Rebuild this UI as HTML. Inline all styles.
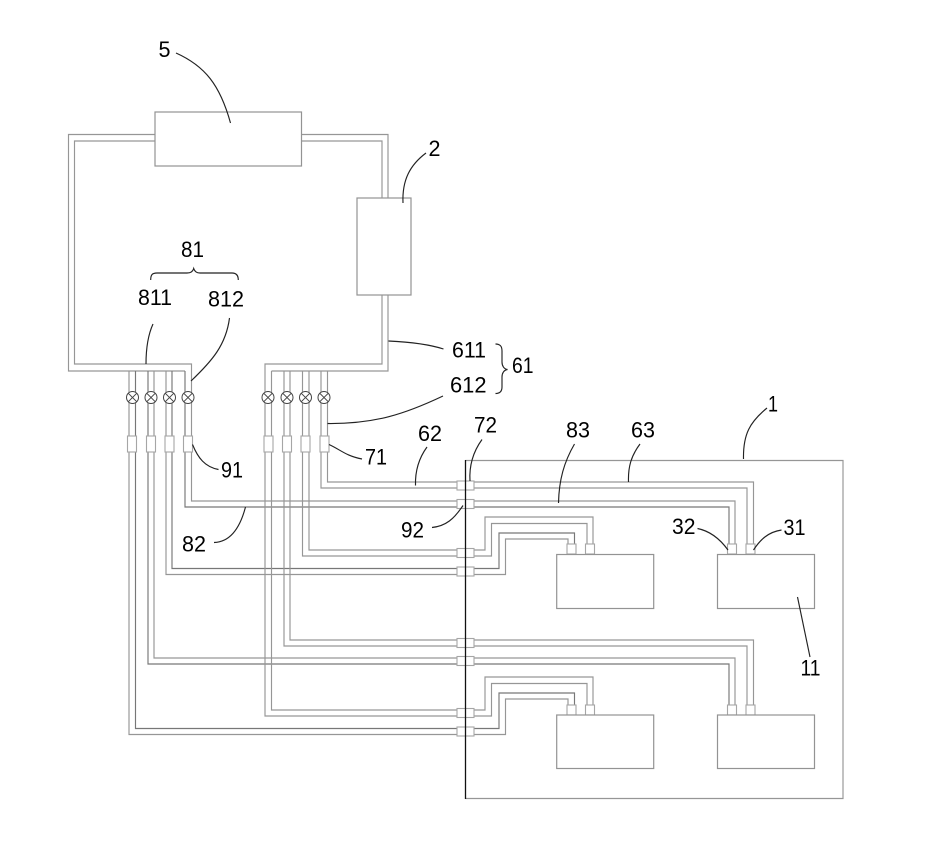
<!DOCTYPE html>
<html>
<head>
<meta charset="utf-8">
<style>
html,body{margin:0;padding:0;background:#fff;}
svg{display:block;}
text{font-family:"Liberation Sans",sans-serif;font-size:22px;fill:#000;}
.p{fill:none;stroke:#969696;stroke-width:1.15;}
.d{fill:none;stroke:#777;stroke-width:1.15;}
.b{fill:#fff;stroke:#939393;stroke-width:1.2;}
.c{fill:#fff;stroke:#a6a6a6;stroke-width:1.1;}
.l{fill:none;stroke:#222;stroke-width:1.15;}
.v{fill:#fff;stroke:#444;stroke-width:1;}
</style>
</head>
<body>
<svg width="930" height="850" viewBox="0 0 930 850" xmlns="http://www.w3.org/2000/svg">
<rect width="930" height="850" fill="#fff"/>

<!-- enclosure 1 -->
<path class="p" d="M465.5,460.5 H843 V798.5 H465.5"/>

<!-- main loop -->
<path class="p" d="M155,134.5 H68.5 V371 H185"/>
<path class="p" d="M155,141 H74.5 V364 H191.5 V371"/>
<path class="p" d="M301,134.5 H388 V198 M388,295 V371 H271.5"/>
<path class="p" d="M301,141 H382 V198 M382,295 V364 H265 V371"/>

<!-- left group -->
<path class="p" d="M129,371 V734.5 H505.5 V699 H568 V705"/>
<path class="d" d="M135.5,371 V728.5 H499 V693 H574.5 V705"/>
<path class="d" d="M148,371 V664 H729 V705"/>
<path class="p" d="M154,371 V658 H735 V705"/>
<path class="p" d="M166,371 V574.5 H505.5 V539 H568 V544"/>
<path class="d" d="M172,371 V568.5 H499 V533 H574.5 V544"/>
<path class="d" d="M185,371 V507 H729 V544"/>
<path class="p" d="M191.5,371 V501 H735 V544"/>

<!-- right group -->
<path class="p" d="M265,371 V716 H491.5 V683.5 H587 V705"/>
<path class="p" d="M271.5,371 V710 H485 V677 H593 V705"/>
<path class="p" d="M284,371 V646 H747 V705"/>
<path class="p" d="M290,371 V640 H753.5 V705"/>
<path class="p" d="M302.5,371 V556 H491.5 V523.5 H587 V544"/>
<path class="p" d="M309,371 V550 H485 V517 H593 V544"/>
<path class="p" d="M321,371 V488 H747 V544"/>
<path class="p" d="M327.5,371 V482 H753.5 V544"/>

<!-- connectors on branches -->
<rect class="c" x="127.5" y="436" width="9" height="16"/>
<rect class="c" x="146.5" y="436" width="9" height="16"/>
<rect class="c" x="165" y="436" width="9" height="16"/>
<rect class="c" x="183.5" y="436" width="9" height="16"/>
<rect class="c" x="264" y="436" width="9" height="16"/>
<rect class="c" x="282.5" y="436" width="9" height="16"/>
<rect class="c" x="301" y="436" width="9" height="16"/>
<rect class="c" x="320" y="436" width="9" height="16"/>

<!-- connectors at enclosure wall -->
<rect class="c" x="457" y="481" width="17" height="9"/>
<rect class="c" x="457" y="499.5" width="17" height="9"/>
<rect class="c" x="457" y="548.5" width="17" height="9"/>
<rect class="c" x="457" y="567" width="17" height="9"/>
<rect class="c" x="457" y="638.5" width="17" height="9"/>
<rect class="c" x="457" y="656.5" width="17" height="9"/>
<rect class="c" x="457" y="708.5" width="17" height="9"/>
<rect class="c" x="457" y="727" width="17" height="9"/>

<!-- valves -->
<g>
<circle class="v" cx="132.5" cy="397.5" r="6"/><path class="v" d="M128.3,393.3 L136.7,401.7 M136.7,393.3 L128.3,401.7"/>
<circle class="v" cx="151" cy="397.5" r="6"/><path class="v" d="M146.8,393.3 L155.2,401.7 M155.2,393.3 L146.8,401.7"/>
<circle class="v" cx="169.5" cy="397.5" r="6"/><path class="v" d="M165.3,393.3 L173.7,401.7 M173.7,393.3 L165.3,401.7"/>
<circle class="v" cx="188" cy="397.5" r="6"/><path class="v" d="M183.8,393.3 L192.2,401.7 M192.2,393.3 L183.8,401.7"/>
<circle class="v" cx="268" cy="397.5" r="6"/><path class="v" d="M263.8,393.3 L272.2,401.7 M272.2,393.3 L263.8,401.7"/>
<circle class="v" cx="287" cy="397.5" r="6"/><path class="v" d="M282.8,393.3 L291.2,401.7 M291.2,393.3 L282.8,401.7"/>
<circle class="v" cx="305.5" cy="397.5" r="6"/><path class="v" d="M301.3,393.3 L309.7,401.7 M309.7,393.3 L301.3,401.7"/>
<circle class="v" cx="324" cy="397.5" r="6"/><path class="v" d="M319.8,393.3 L328.2,401.7 M328.2,393.3 L319.8,401.7"/>
</g>

<!-- top boxes -->
<rect class="b" x="155" y="112" width="146.5" height="54"/>
<rect class="b" x="357" y="198" width="54" height="97"/>

<!-- battery ports -->
<rect class="c" x="567" y="544" width="9" height="10"/>
<rect class="c" x="585.5" y="544" width="9" height="10"/>
<rect class="c" x="727.5" y="544" width="9" height="10"/>
<rect class="c" x="746" y="544" width="9" height="10"/>
<rect class="c" x="567" y="705" width="9" height="10"/>
<rect class="c" x="585.5" y="705" width="9" height="10"/>
<rect class="c" x="727.5" y="705" width="9" height="10"/>
<rect class="c" x="746" y="705" width="9" height="10"/>

<!-- battery boxes -->
<rect class="b" x="556.7" y="554.5" width="97" height="54"/>
<rect class="b" x="717.5" y="554.5" width="97" height="54"/>
<rect class="b" x="556.7" y="715" width="97" height="53.5"/>
<rect class="b" x="717.5" y="715" width="97" height="53.5"/>

<!-- enclosure left wall -->
<path d="M465.5,460 V799" fill="none" stroke="#111" stroke-width="1.3"/>

<!-- leaders -->
<path class="l" d="M176,53 C205,66 220,85 230.5,123"/>
<path class="l" d="M426,153 C410,165 402,180 403,203"/>
<path class="l" d="M146,364 C146,348 148,335 153,324"/>
<path class="l" d="M191,381 C212,361 226,345 229.5,318"/>
<path class="l" d="M388.5,341 C410,342 428,344 443.5,349"/>
<path class="l" d="M327.5,423.5 C375,424 405,414 443,396"/>
<path class="l" d="M329,444.5 C341,450 346,456 362,459"/>
<path class="l" d="M415.5,485.5 C415,470 419,458 427,447"/>
<path class="l" d="M470,481 C469,465 473,452 482,439.5"/>
<path class="l" d="M558.5,503 C559,480 564,462 574.5,444"/>
<path class="l" d="M628.5,482 C628,467 631,456 640,444"/>
<path class="l" d="M463,505.5 C454,519 446,526 432,527.5"/>
<path class="l" d="M743.5,459 C743,434 750,422 767,408"/>
<path class="l" d="M697.5,528.5 C710,531 720,539 728,550"/>
<path class="l" d="M781.5,530 C768,532 760,540 753.5,550"/>
<path class="l" d="M797.5,597 L810,657"/>
<path class="l" d="M245.5,507 C240,528 230,542 214,542.5"/>
<path class="l" d="M192.5,444.5 C198,458 205,467 218.5,469.5"/>

<!-- braces -->
<path class="l" d="M150.7,280 C150.7,275 152,273 157,273 H187 C191,273 193,271 193.7,268.5 C194.5,271 196,273 200,273 H232 C236,273 238.3,275 238.3,280"/>
<path class="l" d="M495.5,344 C500,344 502,346 502,351 V362 C502,366 504,369 507.5,369.5 C504,370 502,373 502,377 V387 C502,391 500,393.5 495.5,393.5"/>

<!-- labels -->
<text x="158.5" y="57" textLength="12" lengthAdjust="spacingAndGlyphs">5</text>
<text x="428.5" y="156" textLength="12" lengthAdjust="spacingAndGlyphs">2</text>
<text x="181" y="257" textLength="23" lengthAdjust="spacingAndGlyphs">81</text>
<text x="138" y="305" textLength="34" lengthAdjust="spacingAndGlyphs">811</text>
<text x="208" y="306.5" textLength="36" lengthAdjust="spacingAndGlyphs">812</text>
<text x="452" y="357.5" textLength="34" lengthAdjust="spacingAndGlyphs">611</text>
<text x="450" y="392.5" textLength="36.5" lengthAdjust="spacingAndGlyphs">612</text>
<text x="512" y="373" textLength="21.5" lengthAdjust="spacingAndGlyphs">61</text>
<text x="365" y="464.5" textLength="22" lengthAdjust="spacingAndGlyphs">71</text>
<text x="418" y="441" textLength="24" lengthAdjust="spacingAndGlyphs">62</text>
<text x="474" y="432.5" textLength="23" lengthAdjust="spacingAndGlyphs">72</text>
<text x="566" y="437.5" textLength="24" lengthAdjust="spacingAndGlyphs">83</text>
<text x="631" y="437.5" textLength="24" lengthAdjust="spacingAndGlyphs">63</text>
<text x="401" y="537.5" textLength="23" lengthAdjust="spacingAndGlyphs">92</text>
<text x="182" y="551.5" textLength="24" lengthAdjust="spacingAndGlyphs">82</text>
<text x="221" y="477.5" textLength="22" lengthAdjust="spacingAndGlyphs">91</text>
<text x="768" y="411.5" textLength="10" lengthAdjust="spacingAndGlyphs">1</text>
<text x="672" y="534" textLength="23.5" lengthAdjust="spacingAndGlyphs">32</text>
<text x="783.5" y="535" textLength="22" lengthAdjust="spacingAndGlyphs">31</text>
<text x="800.5" y="675.5" textLength="20" lengthAdjust="spacingAndGlyphs">11</text>
</svg>
</body>
</html>
